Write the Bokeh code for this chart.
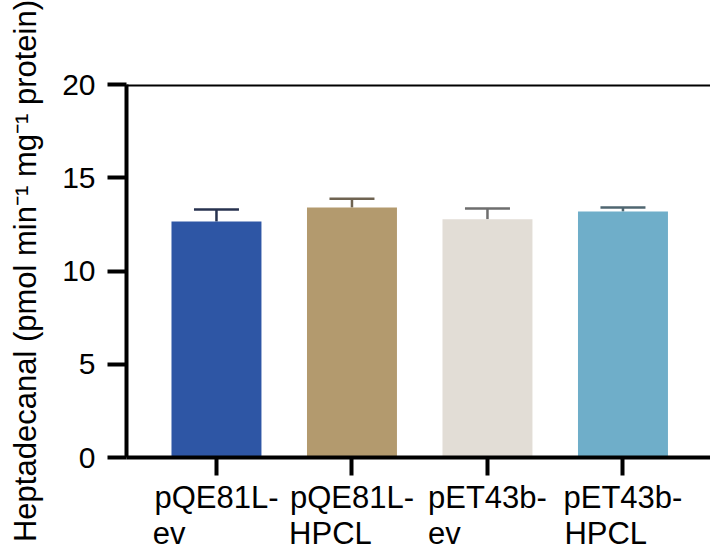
from bokeh.plotting import figure
from bokeh.models import Range1d, FixedTicker, Span, Whisker, TeeHead, ColumnDataSource
from bokeh.core.properties import field
from bokeh.embed import file_html
from bokeh.resources import INLINE

# ---- data ----
label_line1 = ["pQE81L-", "pQE81L-", "pET43b-", "pET43b-"]
label_line2 = ["ev", "HPCL", "ev", "HPCL"]
means = [12.66, 13.40, 12.77, 13.19]
errors = [0.64, 0.48, 0.58, 0.21]
bar_colors = ["#2E56A5", "#B39A6E", "#E2DDD6", "#6FAEC9"]
err_colors = ["#27324f", "#6f6351", "#6e6e6e", "#4f6670"]
y_ticks = [0, 5, 10, 15, 20]
y_label = "Heptadecanal (pmol min\u207b\u00b9 mg\u207b\u00b9 protein)"

# styling: non-breaking-space padding so the second line starts flush-left under the first
line2_pad = [11, 5, 10, 4]
NBSP = "\u00a0"
tick_text = [a + "\n" + b + NBSP * n for a, b, n in zip(label_line1, label_line2, line2_pad)]

xs = list(range(len(means)))
src = ColumnDataSource(dict(
    x=xs, top=means, upper=[m + e for m, e in zip(means, errors)],
    color=bar_colors, ecolor=err_colors))

FONT = "Liberation Sans"

p = figure(width=710, height=554, output_backend="svg", toolbar_location=None,
           x_range=Range1d(-0.664, 3.646), y_range=Range1d(0, 20),
           min_border_top=84, min_border_right=0, min_border_bottom=0, min_border_left=126)
p.background_fill_color = "white"
p.border_fill_color = "white"
p.outline_line_color = None
p.xgrid.grid_line_color = None
p.ygrid.grid_line_color = None

p.vbar(x="x", top="top", bottom=0, width=0.664, fill_color="color",
       line_color=None, source=src)

w = Whisker(base="x", lower="top", upper="upper", source=src,
            line_color=field("ecolor"), line_width=2.5,
            upper_head=TeeHead(size=45, line_color=field("ecolor"), line_width=2.5),
            lower_head=None)
p.add_layout(w)

p.add_layout(Span(location=20, dimension="width", line_color="black", line_width=4))

# axes
for ax in (p.xaxis[0], p.yaxis[0]):
    ax.axis_line_width = 4
    ax.axis_line_color = "black"
    ax.major_tick_line_width = 4
    ax.major_tick_line_color = "black"
    ax.major_tick_in = 0
    ax.minor_tick_line_color = None
    ax.major_label_text_font = FONT
    ax.major_label_text_color = "black"

p.xaxis.ticker = FixedTicker(ticks=xs)
p.xaxis.major_tick_out = 18
p.xaxis.major_label_overrides = {i: t for i, t in zip(xs, tick_text)}
p.xaxis.major_label_text_font_size = "31px"
p.xaxis.major_label_text_line_height = 1.05
p.xaxis.major_label_standoff = 4

p.yaxis.ticker = FixedTicker(ticks=y_ticks)
p.yaxis.major_tick_out = 19
p.yaxis.major_label_text_font_size = "30px"
p.yaxis.major_label_standoff = 12
p.yaxis.axis_label = y_label
p.yaxis.axis_label_text_font = FONT
p.yaxis.axis_label_text_font_size = "31px"
p.yaxis.axis_label_text_font_style = "normal"
p.yaxis.axis_label_text_color = "black"
p.yaxis.axis_label_standoff = 16

open("out.html", "w").write(file_html(p, INLINE))
